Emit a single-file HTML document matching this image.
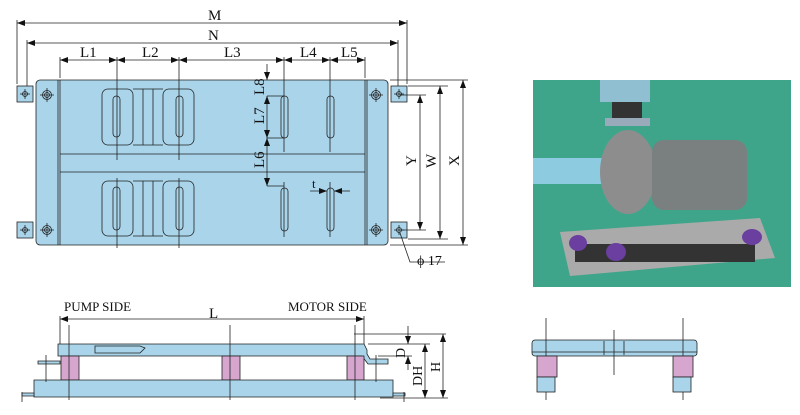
<!DOCTYPE html>
<html><head><meta charset="utf-8"><style>
html,body{margin:0;padding:0;background:#fff;width:800px;height:415px;overflow:hidden}
text{font-family:"Liberation Serif",serif;fill:#111}
</style></head><body>
<svg width="800" height="415" viewBox="0 0 800 415" xmlns="http://www.w3.org/2000/svg">
<defs>
<marker id="a" markerWidth="8" markerHeight="6" refX="8" refY="3" orient="auto-start-reverse" markerUnits="userSpaceOnUse"><path d="M0,0L8,3L0,6z" fill="#111"/></marker>
</defs>
<g stroke="#222" stroke-width="0.8" fill="none">
<rect x="17" y="86" width="16" height="16" fill="#a9d4ea"/>
<rect x="17" y="222" width="16" height="16" fill="#a9d4ea"/>
<rect x="391" y="86" width="16" height="16" fill="#a9d4ea"/>
<rect x="391" y="222" width="16" height="16" fill="#a9d4ea"/>
<rect x="36" y="80" width="352" height="165" rx="4" fill="#a9d4ea"/>
<line x1="58" y1="80" x2="58" y2="245"/><line x1="60" y1="80" x2="60" y2="245"/>
<line x1="365" y1="80" x2="365" y2="245"/><line x1="367" y1="80" x2="367" y2="245"/>
<line x1="60" y1="154" x2="365" y2="154"/><line x1="60" y1="172" x2="365" y2="172"/>
<rect x="102" y="89" width="31" height="56" rx="6"/><rect x="163" y="89" width="31" height="56" rx="6"/>
<path d="M133,89H163M133,145H163M143,89V145M153,89V145"/>
<rect x="102" y="181" width="31" height="55" rx="6"/><rect x="163" y="181" width="31" height="55" rx="6"/>
<path d="M133,181H163M133,236H163M143,181V236M153,181V236"/>
<rect x="113" y="96" width="7" height="41" rx="3.5"/><rect x="176" y="96" width="7" height="41" rx="3.5"/>
<rect x="113" y="187" width="7" height="43" rx="3.5"/><rect x="176" y="187" width="7" height="43" rx="3.5"/>
<rect x="281" y="96" width="7" height="42" rx="3.5"/><rect x="327" y="96" width="7" height="42" rx="3.5"/>
<rect x="281" y="188" width="7" height="43" rx="3.5"/><rect x="327" y="188" width="7" height="43" rx="3.5"/>
<g>
<circle cx="47" cy="95" r="4.5"/><circle cx="47" cy="95" r="2.5"/><circle cx="47" cy="230" r="4.5"/><circle cx="47" cy="230" r="2.5"/>
<circle cx="376" cy="95" r="4.5"/><circle cx="376" cy="95" r="2.5"/><circle cx="376" cy="230" r="4.5"/><circle cx="376" cy="230" r="2.5"/>
<circle cx="25" cy="94" r="2.5"/><circle cx="25" cy="230" r="2.5"/><circle cx="399" cy="94" r="2.5"/><circle cx="399" cy="230" r="2.5"/>
<path d="M40,95H54M47,88V102M40,230H54M47,223V237M369,95H383M376,88V102M369,230H383M376,223V237M20,94H30M25,89V99M20,230H30M25,225V235M394,94H404M399,89V99M394,230H404M399,225V235"/>
</g>
<path d="M17,20V84M407,20V84M27,40V86M398,40V86M60,57V78M117,57V160M179,57V160M117,178V248M179,178V248M284,57V152M330,57V152M365,57V78M284,182V237M330,182V237"/>
<line x1="17" y1="23" x2="407" y2="23" marker-start="url(#a)" marker-end="url(#a)"/>
<line x1="27" y1="43" x2="398" y2="43" marker-start="url(#a)" marker-end="url(#a)"/>
<line x1="60" y1="60" x2="117" y2="60" marker-start="url(#a)" marker-end="url(#a)"/>
<line x1="117" y1="60" x2="179" y2="60" marker-start="url(#a)" marker-end="url(#a)"/>
<line x1="179" y1="60" x2="284" y2="60" marker-start="url(#a)" marker-end="url(#a)"/>
<line x1="284" y1="60" x2="330" y2="60" marker-start="url(#a)" marker-end="url(#a)"/>
<line x1="330" y1="60" x2="365" y2="60" marker-start="url(#a)" marker-end="url(#a)"/>
<line x1="267" y1="64" x2="267" y2="80" marker-end="url(#a)"/>
<line x1="267" y1="96" x2="267" y2="138" marker-start="url(#a)" marker-end="url(#a)"/>
<line x1="267" y1="138" x2="267" y2="186" marker-start="url(#a)" marker-end="url(#a)"/>
<path d="M267,96H284M267,138H284M267,186H284M390,80H468M390,245H468M408,86H448M408,239H448M400,95H426M400,230H426"/>
<line x1="420" y1="95" x2="420" y2="230" marker-start="url(#a)" marker-end="url(#a)"/>
<line x1="440" y1="86" x2="440" y2="239" marker-start="url(#a)" marker-end="url(#a)"/>
<line x1="463" y1="80" x2="463" y2="245" marker-start="url(#a)" marker-end="url(#a)"/>
<line x1="310" y1="191" x2="327" y2="191" marker-end="url(#a)"/>
<line x1="350" y1="191" x2="334" y2="191" marker-end="url(#a)"/>
<path d="M400,233L410,262H445"/>
<line x1="60" y1="319" x2="364" y2="319" marker-start="url(#a)" marker-end="url(#a)"/>
<path d="M60,316V344M364,316V344"/>
<path d="M58,344H364L367,350V354L370,359H388V364H368L362,356H58Z" fill="#a9d4ea"/>
<path d="M38,361H60V364H38Z" fill="#a9d4ea"/>
<path d="M95,346H140L145,348L140,353H95Z"/>
<rect x="61" y="356" width="18" height="24" fill="#d7a6cf"/>
<rect x="222" y="356" width="18" height="24" fill="#d7a6cf"/>
<rect x="347" y="356" width="17" height="24" fill="#d7a6cf"/>
<path d="M34,380H393V397H34Z" fill="#a9d4ea"/>
<path d="M22,396H34V393H22ZM393,396H405V393H393Z" fill="#a9d4ea"/>
<path d="M46,355V382M376,355V382M69,325V400M230,325V400M355,325V400M22,392V402M404,392V402"/>
<path d="M354,334H446M368,344H430M378,356H412M380,398H448"/>
<line x1="408" y1="326" x2="408" y2="344" marker-end="url(#a)"/>
<line x1="408" y1="370" x2="408" y2="356" marker-end="url(#a)"/>
<line x1="425" y1="344" x2="425" y2="398" marker-start="url(#a)" marker-end="url(#a)"/>
<line x1="443" y1="334" x2="443" y2="398" marker-start="url(#a)" marker-end="url(#a)"/>
<rect x="532" y="340" width="165" height="16" rx="3" fill="#a9d4ea"/>
<path d="M532,352H697M604,341V355M624,341V355M614,330V375M546,318V400M683,318V400"/>
<rect x="537" y="356" width="20" height="21" fill="#d7a6cf"/>
<rect x="673" y="356" width="20" height="21" fill="#d7a6cf"/>
<rect x="537" y="377" width="18" height="15" fill="#a9d4ea"/>
<rect x="673" y="377" width="18" height="15" fill="#a9d4ea"/>
</g>
<rect x="533" y="80" width="258" height="207" fill="#3fa58a"/>
<rect x="600" y="80" width="50" height="22" fill="#8fbfd0"/>
<rect x="612" y="102" width="30" height="16" fill="#333"/>
<rect x="605" y="118" width="45" height="8" fill="#9ab"/>
<rect x="533" y="158" width="75" height="26" fill="#8ccbe0"/>
<ellipse cx="628" cy="172" rx="28" ry="42" fill="#8d8d8d"/>
<rect x="652" y="140" width="95" height="70" rx="12" fill="#7a8080"/>
<path d="M560,232L760,218L775,258L570,276Z" fill="#aaa"/>
<rect x="575" y="244" width="180" height="18" fill="#333"/>
<ellipse cx="578" cy="243" rx="9" ry="8" fill="#6b3fa0"/>
<ellipse cx="616" cy="252" rx="10" ry="9" fill="#6b3fa0"/>
<ellipse cx="752" cy="237" rx="10" ry="8" fill="#6b3fa0"/>
<g font-size="15">
<text x="208" y="20">M</text><text x="208" y="40">N</text>
<text x="80" y="57">L1</text><text x="142" y="57">L2</text><text x="224" y="57">L3</text>
<text x="300" y="57">L4</text><text x="341" y="57">L5</text>
<text x="312" y="188" font-size="13">t</text>
<text x="417" y="265" font-size="14">ϕ 17</text>
<text transform="translate(264,95) rotate(-90)">L8</text>
<text transform="translate(264,124) rotate(-90)">L7</text>
<text transform="translate(264,168) rotate(-90)">L6</text>
<text transform="translate(416,166) rotate(-90)">Y</text>
<text transform="translate(436,168) rotate(-90)">W</text>
<text transform="translate(459,166) rotate(-90)">X</text>
<text x="64" y="311" font-size="13">PUMP SIDE</text>
<text x="288" y="311" font-size="13">MOTOR SIDE</text>
<text x="209" y="318">L</text>
<text transform="translate(405,358) rotate(-90)" font-size="14">D</text>
<text transform="translate(422,386) rotate(-90)" font-size="14">DH</text>
<text transform="translate(440,372) rotate(-90)" font-size="14">H</text>
</g>
</svg>
</body></html>
